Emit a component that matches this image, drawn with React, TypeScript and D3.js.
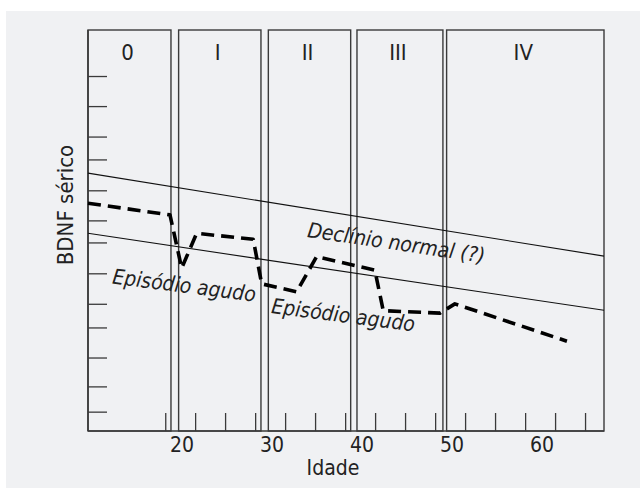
import * as d3 from "d3";

// stage panels (age ranges)
const panelNames = ["0", "I", "II", "III", "IV"];
const panelStart = [9.56, 19.63, 29.6, 39.45, 49.41];
const panelEnd = [18.78, 28.78, 38.75, 49.0, 66.9];

// x axis labels and minor ticks
const xLabels = [20, 30, 40, 50, 60];
const xMinorTicks = [18.2, 21.52, 24.85, 28.19, 31.52, 34.85, 38.19, 41.52, 44.85, 48.19, 51.52, 54.85, 58.19, 61.52, 64.85];
const yTicks = [88.4, 80.9, 73.3, 67.6, 59.9, 52.4, 46.9, 39.2, 31.6, 25.7, 18.2, 11.0, 4.7];

// normal decline band (two straight lines)
const upperLine = [
  { age: 9.56, v: 64.3 },
  { age: 66.9, v: 43.6 },
];
const lowerLine = [
  { age: 9.56, v: 49.3 },
  { age: 66.9, v: 30.1 },
];

// BDNF course with acute episodes (dashed)
const courseAge = [9.56, 18.67, 19.97, 21.63, 27.92, 28.86, 32.74, 34.97, 41.44, 42.37, 48.67, 50.33, 62.78];
const courseValue = [56.8, 53.9, 40.6, 49.3, 47.8, 36.7, 34.7, 43.5, 40.1, 30.0, 29.4, 31.7, 22.4];

const width = 640;
const height = 491;
const plot = { left: 88, right: 604, top: 30, bottom: 431 };
const font = "'Liberation Sans Narrow', 'DejaVu Sans Condensed', 'Roboto', sans-serif";
const ink = "#222";

const App = () => {
  const x = d3.scaleLinear().domain([9.56, 66.9]).range([plot.left, plot.right]);
  const y = d3.scaleLinear().domain([0, 100]).range([plot.bottom, plot.top]);

  const line = d3
    .line<{ age: number; v: number }>()
    .x((d) => x(d.age))
    .y((d) => y(d.v));

  const course = courseAge.map((age, i) => ({ age, v: courseValue[i] }));

  return (
    <svg
      width={width}
      height={height}
      style={{ position: "absolute", left: 0, top: 0 }}
      fontFamily={font}
    >
      <rect x={6} y={11} width={width - 6} height={477} fill="#f0f1f3" />

      {/* panels */}
      {panelNames.map((name, i) => {
        const x0 = x(panelStart[i]);
        const x1 = x(panelEnd[i]);
        return (
          <g key={name}>
            <rect
              x={x0}
              y={plot.top}
              width={x1 - x0}
              height={plot.bottom - plot.top}
              fill="none"
              stroke="#3a3a3a"
              strokeWidth={1.4}
            />
            <text x={(x0 + x1) / 2 - 2} y={60} fontSize={22} textAnchor="middle" fill={ink}>
              {name}
            </text>
          </g>
        );
      })}

      {/* y ticks */}
      {yTicks.map((t) => (
        <line key={t} x1={plot.left} x2={plot.left + 19} y1={y(t)} y2={y(t)} stroke="#3a3a3a" strokeWidth={1.3} />
      ))}

      {/* x minor ticks */}
      {xMinorTicks.map((t) => (
        <line key={t} x1={x(t)} x2={x(t)} y1={plot.bottom} y2={plot.bottom - 18} stroke="#3a3a3a" strokeWidth={1.3} />
      ))}

      {/* axes */}
      <line x1={plot.left} x2={plot.right} y1={plot.bottom} y2={plot.bottom} stroke="#3a3a3a" strokeWidth={1.6} />
      <line x1={plot.left} x2={plot.left} y1={plot.top} y2={plot.bottom} stroke="#3a3a3a" strokeWidth={1.6} />

      {xLabels.map((t) => (
        <text key={t} x={x(t)} y={452} fontSize={21} textAnchor="middle" fill={ink}>
          {t}
        </text>
      ))}
      <text x={333} y={475} fontSize={21} textAnchor="middle" fill={ink}>
        Idade
      </text>
      <text transform={`translate(73, 205) rotate(-90)`} fontSize={22} textAnchor="middle" fill={ink}>
        BDNF sérico
      </text>

      {/* normal decline lines */}
      <path d={line(upperLine) ?? ""} fill="none" stroke="#111" strokeWidth={1.1} />
      <path d={line(lowerLine) ?? ""} fill="none" stroke="#111" strokeWidth={1.1} />

      {/* course */}
      <path
        d={line(course) ?? ""}
        fill="none"
        stroke="#000"
        strokeWidth={3.6}
        strokeDasharray="13,7"
        strokeLinejoin="round"
      />

      {/* annotations */}
      <text
        transform={`translate(${x(33.86)}, ${y(48.4)}) rotate(8.4)`}
        fontSize={21}
        fontStyle="italic"
        fill={ink}
      >
        Declínio normal (?)
      </text>
      <text
        transform={`translate(${x(12.19)}, ${y(36.8)}) rotate(7.3)`}
        fontSize={21}
        fontStyle="italic"
        fill={ink}
      >
        Episódio agudo
      </text>
      <text
        transform={`translate(${x(29.86)}, ${y(29.4)}) rotate(7.3)`}
        fontSize={21}
        fontStyle="italic"
        fill={ink}
      >
        Episódio agudo
      </text>
    </svg>
  );
};

export default App;
